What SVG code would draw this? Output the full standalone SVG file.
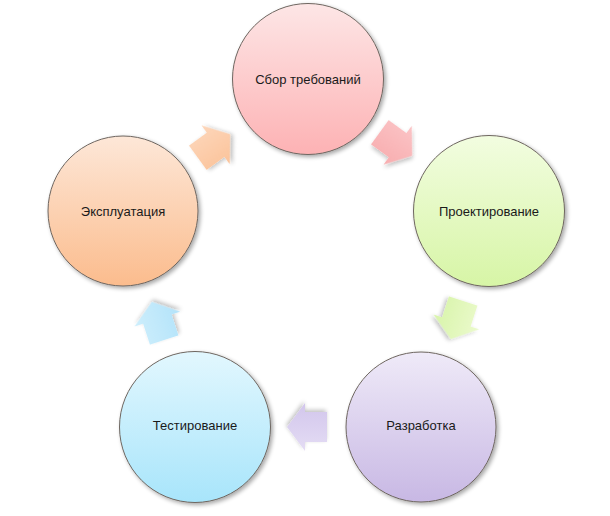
<svg xmlns="http://www.w3.org/2000/svg" width="610" height="516" viewBox="0 0 610 516">
<style>
.node circle{stroke:#6e6660;stroke-width:1;filter:url(#shadow)}
.node text{font-family:"Liberation Sans","DejaVu Sans",sans-serif;font-size:13px;fill:#1a1a1a;text-anchor:middle;dominant-baseline:central}
.arrow{filter:url(#ashadow)}
</style>
<defs>
<filter id="shadow" x="-20%" y="-20%" width="140%" height="140%">
<feGaussianBlur in="SourceAlpha" stdDeviation="2"/>
<feOffset dx="1.5" dy="2" result="b"/>
<feComponentTransfer><feFuncA type="linear" slope="0.35"/></feComponentTransfer>
<feMerge><feMergeNode/><feMergeNode in="SourceGraphic"/></feMerge>
</filter>
<filter id="ashadow" x="-30%" y="-30%" width="160%" height="160%">
<feGaussianBlur in="SourceAlpha" stdDeviation="2"/>
<feOffset dx="1.5" dy="2" result="b"/>
<feComponentTransfer><feFuncA type="linear" slope="0.25"/></feComponentTransfer>
<feMerge><feMergeNode/><feMergeNode in="SourceGraphic"/></feMerge>
</filter>
<linearGradient id="gPink" x1="0" y1="0" x2="0" y2="1"><stop offset="0" stop-color="#fde6e6"/><stop offset="1" stop-color="#fdb2b4"/></linearGradient>
<linearGradient id="gGreen" x1="0" y1="0" x2="0" y2="1"><stop offset="0" stop-color="#f2fde0"/><stop offset="1" stop-color="#d7f5a6"/></linearGradient>
<linearGradient id="gLav" x1="0" y1="0" x2="0" y2="1"><stop offset="0" stop-color="#efeaf8"/><stop offset="1" stop-color="#c8b8e4"/></linearGradient>
<linearGradient id="gBlue" x1="0" y1="0" x2="0" y2="1"><stop offset="0" stop-color="#e2f7fe"/><stop offset="1" stop-color="#a8e5fb"/></linearGradient>
<linearGradient id="gOrange" x1="0" y1="0" x2="0" y2="1"><stop offset="0" stop-color="#fde7d8"/><stop offset="1" stop-color="#fbbc8d"/></linearGradient>
<linearGradient id="aPink" x1="0" y1="0" x2="0" y2="1"><stop offset="0" stop-color="#fbc4c6"/><stop offset="1" stop-color="#f8adaf"/></linearGradient>
<linearGradient id="aGreen" x1="0" y1="0" x2="0" y2="1"><stop offset="0" stop-color="#ebfacc"/><stop offset="1" stop-color="#d8f4aa"/></linearGradient>
<linearGradient id="aLav" x1="0" y1="0" x2="0" y2="1"><stop offset="0" stop-color="#e4dcf4"/><stop offset="1" stop-color="#d2c6ec"/></linearGradient>
<linearGradient id="aBlue" x1="0" y1="0" x2="0" y2="1"><stop offset="0" stop-color="#cdeefc"/><stop offset="1" stop-color="#b3e3fa"/></linearGradient>
<linearGradient id="aOrange" x1="0" y1="0" x2="0" y2="1"><stop offset="0" stop-color="#fdd6ba"/><stop offset="1" stop-color="#fbc39a"/></linearGradient>
<path id="arr" d="M-20,-15 L2,-15 L2,-24 L20,0 L2,24 L2,15 L-20,15 Z"/>
</defs>
<rect width="610" height="516" fill="#ffffff"/>
<g id="connectors">
<use href="#arr" class="arrow" fill="url(#aOrange)" transform="translate(214,146) rotate(-36)"/>
<use href="#arr" class="arrow" fill="url(#aPink)" transform="translate(396,144) rotate(36)"/>
<use href="#arr" class="arrow" fill="url(#aGreen)" transform="translate(457,320) rotate(108)"/>
<use href="#arr" class="arrow" fill="url(#aLav)" transform="translate(307,427) rotate(180)"/>
<use href="#arr" class="arrow" fill="url(#aBlue)" transform="translate(158,321) rotate(-108)"/>
</g>
<g id="node-sbor" class="node"><circle cx="308" cy="79" r="75.5" fill="url(#gPink)"/><text x="308" y="79">Сбор требований</text></g>
<g id="node-proekt" class="node"><circle cx="489" cy="211" r="75.5" fill="url(#gGreen)"/><text x="489" y="211">Проектирование</text></g>
<g id="node-razrab" class="node"><circle cx="421" cy="427" r="75" fill="url(#gLav)"/><text x="421" y="425">Разработка</text></g>
<g id="node-test" class="node"><circle cx="195" cy="427" r="75.5" fill="url(#gBlue)"/><text x="195" y="425">Тестирование</text></g>
<g id="node-expl" class="node"><circle cx="123" cy="211" r="75" fill="url(#gOrange)"/><text x="123" y="211">Эксплуатация</text></g>
</svg>
